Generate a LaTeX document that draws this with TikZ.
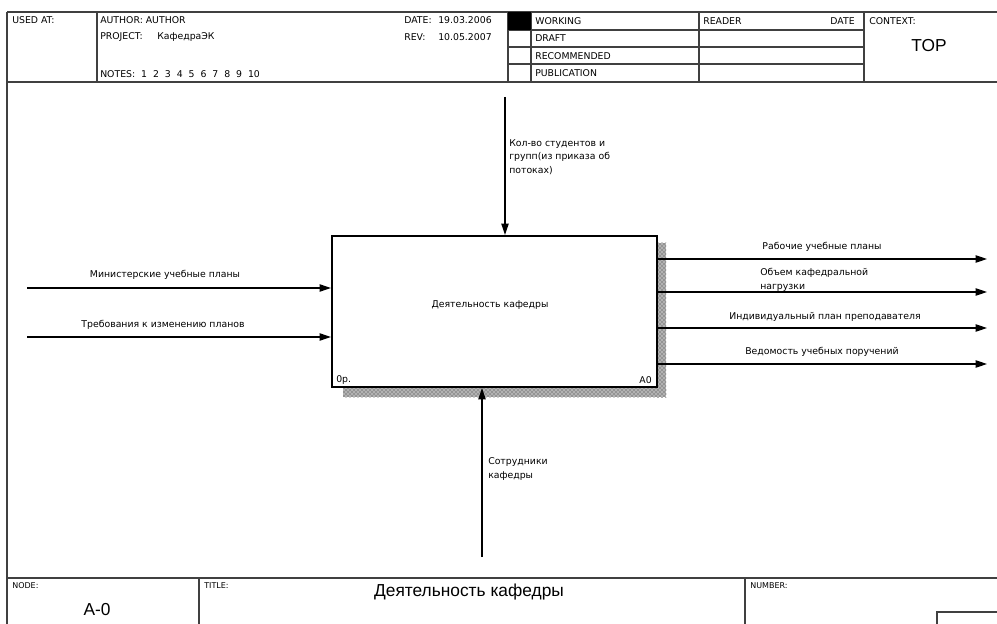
\documentclass[tikz,border=0pt]{standalone}
\usepackage{fontspec}
\setmainfont{DejaVu Sans}
\newfontfamily\bigfont{Liberation Sans}
\usetikzlibrary{arrows.meta,patterns,positioning}
\newcommand{\framecol}{black!75}
\tikzset{
  frame/.style={draw=\framecol, line width=0.9pt},
  arr/.style={draw=black, line width=0.8pt, -{Triangle[length=8.5pt,width=5.5pt]}},
  lbl/.style={font=\fontsize{7}{10}\selectfont, inner sep=0pt},
  hdr/.style={lbl, anchor=west},
  tiny/.style={font=\fontsize{6}{7}\selectfont, inner sep=0pt, anchor=west},
  big/.style={font=\bigfont\fontsize{13}{15}\selectfont, inner sep=0pt},
  shadow/.style={fill=black!30, postaction={pattern=crosshatch dots, pattern color=black!80}},
}

\begin{document}
\begin{tikzpicture}[x=0.75pt, y=-0.75pt]
    \useasboundingbox (0,0) rectangle (997,624);

    \draw[frame] (7,12) -- (997,12);
    \draw[frame] (7,82) -- (997,82);
    \draw[frame] (7,12) -- (7,624);
    \draw[frame] (97,12) -- (97,82);
    \draw[frame] (508,12) -- (508,82);
    \draw[frame] (531,12) -- (531,82);
    \draw[frame] (699,12) -- (699,82);
    \draw[frame] (864,12) -- (864,82);
    \draw[frame] (508,30) -- (864,30);
    \draw[frame] (508,47) -- (864,47);
    \draw[frame] (508,64) -- (864,64);
    \fill[black] (508,12) rectangle (531,30);

    \node[hdr] (usedat) at (12,20) {USED AT:};
    \node[hdr] (author) at (100,20) {AUTHOR: AUTHOR};
    \node[hdr] (project) at (100,37) {PROJECT:};
    \node[hdr] (projname) at (157,37) {КафедраЭК};
    \node[hdr] (notes) at (100,74) {NOTES:\ \ 1\ \ 2\ \ 3\ \ 4\ \ 5\ \ 6\ \ 7\ \ 8\ \ 9\ \ 10};
    \node[hdr] (date) at (404,20) {DATE:};
    \node[hdr] (dateval) at (438,20) {19.03.2006};
    \node[hdr] (rev) at (404,37) {REV:};
    \node[hdr] (revval) at (438,37) {10.05.2007};
    \node[hdr] (working) at (535,21) {WORKING};
    \node[hdr] (draft) at (535,38) {DRAFT};
    \node[hdr] (recomm) at (535,56) {RECOMMENDED};
    \node[hdr] (publ) at (535,73) {PUBLICATION};
    \node[hdr] (reader) at (703,21) {READER};
    \node[lbl, anchor=east] (rdate) at (855,21) {DATE};
    \node[hdr] (context) at (869,21) {CONTEXT:};
    \node[big] (top) at (929,46) {TOP};

    \path[shadow] (657,243) rectangle (666,397);
    \path[shadow] (343,387) rectangle (666,397);
    \node[draw, line width=1.6pt, fill=white, inner sep=0pt,
          minimum width=243.75pt, minimum height=113.25pt] (act) at (494.5,311.5) {};
    \node[lbl] (actname) at (490,305) {Деятельность кафедры};
    \node[lbl, anchor=west] (cost) at (336,380) {0р.};
    \node[lbl, anchor=east] (actnum) at (652,380) {A0};

    \coordinate (in1) at (27,288);
    \coordinate (in2) at (27,337);
    \draw[arr] (in1) -- (in1 -| act.west);
    \draw[arr] (in2) -- (in2 -| act.west);
    \node[lbl] (in1lbl) at (165,275) {Министерские учебные планы};
    \node[lbl] (in2lbl) at (163,325) {Требования к изменению планов};

    \coordinate (ctl) at (505,97);
    \draw[arr] (ctl) -- (ctl |- act.north);
    \node[lbl, anchor=west, align=left] (ctllbl) at (509,157) {Кол-во студентов и\\групп(из приказа об\\потоках)};

    \coordinate (mech) at (482,557);
    \draw[arr] (mech) -- (mech |- act.south);
    \node[lbl, anchor=west, align=left] (mechlbl) at (488,469) {Сотрудники\\кафедры};

    \coordinate (out1) at (987,259);
    \coordinate (out2) at (987,292);
    \coordinate (out3) at (987,328);
    \coordinate (out4) at (987,364);
    \draw[arr] (out1 -| act.east) -- (out1);
    \draw[arr] (out2 -| act.east) -- (out2);
    \draw[arr] (out3 -| act.east) -- (out3);
    \draw[arr] (out4 -| act.east) -- (out4);
    \node[lbl] (out1lbl) at (822,247) {Рабочие учебные планы};
    \node[lbl, anchor=west, align=left] (out2lbl) at (760,280) {Объем кафедральной\\нагрузки};
    \node[lbl] (out3lbl) at (825,317) {Индивидуальный план преподавателя};
    \node[lbl] (out4lbl) at (822,352) {Ведомость учебных поручений};

    \draw[frame] (7,578) -- (997,578);
    \draw[frame] (199,578) -- (199,624);
    \draw[frame] (745,578) -- (745,624);
    \draw[frame] (937,624) -- (937,612) -- (997,612);
    \node[tiny] (nodehdr) at (12,586) {NODE:};
    \node[tiny] (titlehdr) at (204,586) {TITLE:};
    \node[tiny] (numhdr) at (750,586) {NUMBER:};
    \node[big] (nodeval) at (97,610) {A-0};
    \node[big] (titleval) at (469,592) {Деятельность кафедры};

\end{tikzpicture}
\end{document}
